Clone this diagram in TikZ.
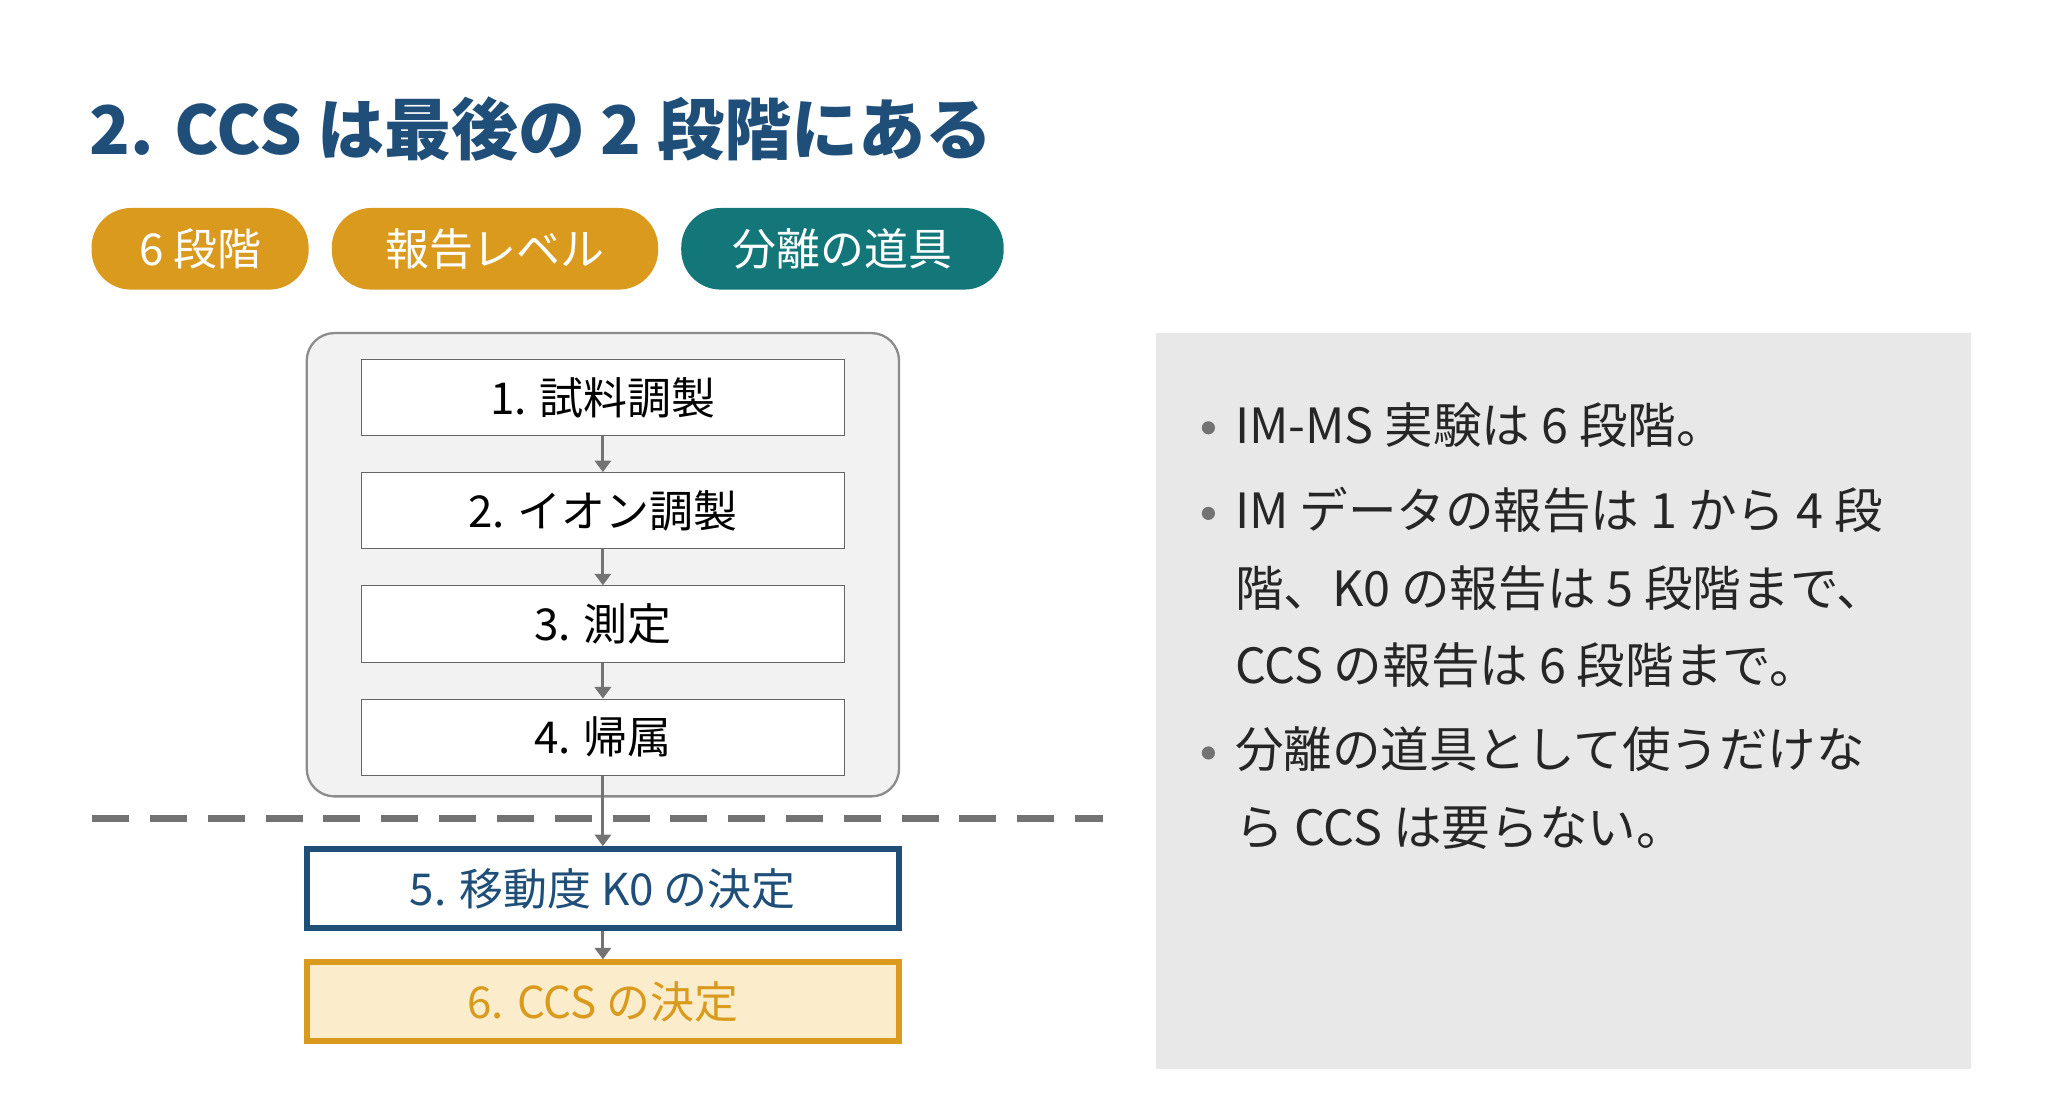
\documentclass[tikz,border=0pt]{standalone}
\usepackage{fontspec}
\setmainfont{Noto Sans CJK JP}
\usepackage{xcolor}
\usetikzlibrary{arrows.meta,positioning}
\definecolor{titleblue}{HTML}{1F4E79}
\definecolor{pillorange}{HTML}{D99A1E}
\definecolor{pillteal}{HTML}{13777A}
\definecolor{lightyellow}{HTML}{FBEDCC}
\begin{document}
\begin{tikzpicture}[
    x=0.02cm, y=-0.02cm,
    pill/.style={rectangle, rounded corners=0.6cm, minimum height=1.24cm, text=white, font=\fontsize{19}{22}\selectfont},
    stage/.style={rectangle, draw=black!60, fill=white, minimum width=7.34cm, minimum height=1.16cm, font=\fontsize{19}{22}\selectfont},
    late/.style={rectangle, line width=2.5pt, minimum width=9.0cm, minimum height=1.2cm, font=\fontsize{19}{22}\selectfont},
    arrow/.style={-{Triangle[length=5pt,width=7pt]}, draw=black!55, line width=1.3pt},
    bullet/.style={anchor=north west, align=left, font=\fontsize{21}{33.5}\selectfont, text=black!85}
]
\useasboundingbox (0,0) rectangle (1568,836);

% Title and tags
\node[anchor=west, text=titleblue, font=\fontsize{29}{34}\selectfont\bfseries] (title) at (62,98) {2. CCS は最後の 2 段階にある};
\node[pill, fill=pillorange, minimum width=3.3cm] (tag_stages) at (152,189) {6 段階};
\node[pill, fill=pillorange, minimum width=4.96cm] (tag_report) at (376,189) {報告レベル};
\node[pill, fill=pillteal, minimum width=4.9cm] (tag_tool) at (640,189) {分離の道具};

% Stages 1-4
\draw[draw=black!45, fill=black!5, rounded corners=12pt, line width=1pt] (233,253) rectangle (683,605);
\node[stage] (prep) at (458,302) {1. 試料調製};
\node[stage] (ions) at (458,388) {2. イオン調製};
\node[stage] (measure) at (458,474) {3. 測定};
\node[stage] (assign) at (458,560) {4. 帰属};

% Stages 5-6
\node[late, draw=titleblue, fill=white, text=titleblue] (mobility) at (458,675) {5. 移動度 K0 の決定};
\node[late, draw=pillorange, fill=lightyellow, text=pillorange] (ccs) at (458,761) {6. CCS の決定};

% Cut line
\draw[black!55, line width=3pt, dash pattern=on 16pt off 9pt] (70,622) -- (838,622);

% Flow
\draw[arrow] (prep) -- (ions);
\draw[arrow] (ions) -- (measure);
\draw[arrow] (measure) -- (assign);
\draw[arrow] (assign) -- (mobility);
\draw[arrow] (mobility) -- (ccs);

% Notes
\fill[black!9] (878,253) rectangle (1497,812);
\node[bullet] (note_one) at (932,300) {IM-MS 実験は 6 段階。};
\node[bullet] (note_two) at (932,364) {IM データの報告は 1 から 4 段\\階、K0 の報告は 5 段階まで、\\CCS の報告は 6 段階まで。};
\node[bullet] (note_three) at (932,546) {分離の道具として使うだけな\\ら CCS は要らない。};
\foreach \y in {325,390,572}
  \fill[black!55] (918,\y) circle (5);
\end{tikzpicture}
\end{document}
